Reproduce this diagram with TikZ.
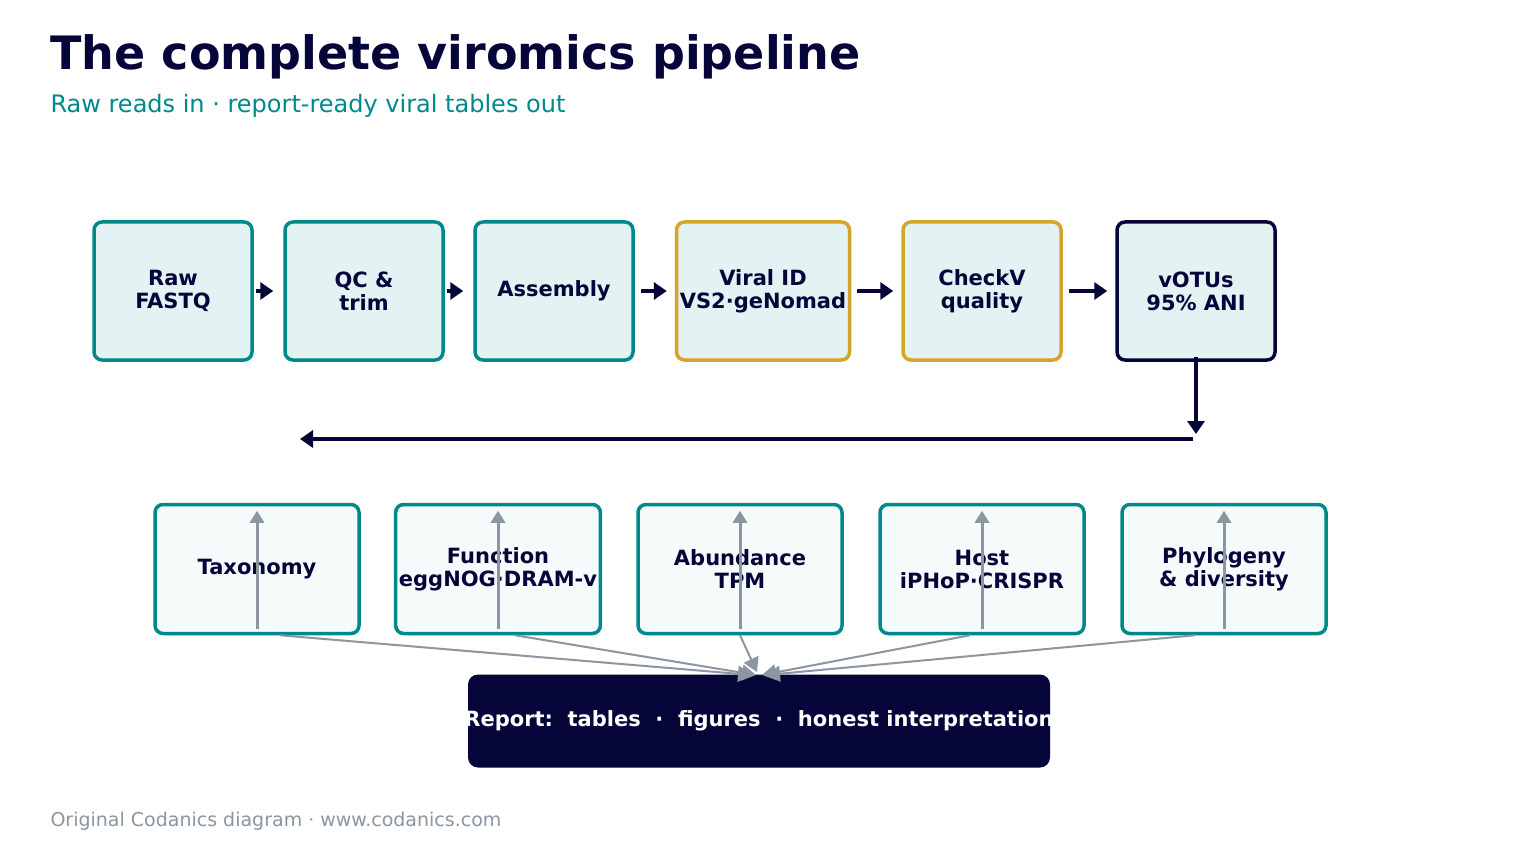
\documentclass[tikz,border=0pt]{standalone}
\usepackage{fontspec}
\setmainfont{DejaVu Sans}
\usetikzlibrary{arrows.meta}
\definecolor{teal}{HTML}{00898A}
\definecolor{tealfill}{HTML}{E3F2F2}
\definecolor{lightfill}{HTML}{F5FAFB}
\definecolor{gold}{HTML}{D4A52A}
\definecolor{navy}{HTML}{05053A}
\definecolor{slate}{HTML}{8C96A0}
\tikzset{
  stage/.style={draw=teal, fill=tealfill, line width=3.5pt, rounded corners=8pt,
    minimum width=158pt, minimum height=138pt, align=center, text=navy,
    font=\fontsize{21}{23}\selectfont\bfseries},
  result/.style={stage, fill=lightfill, minimum width=204pt, minimum height=129pt},
  flow/.style={draw=navy, line width=4.5pt, -{Triangle[length=13pt,width=17pt]}},
  fan/.style={draw=slate, line width=3pt, -{Triangle[length=12pt,width=14pt]}},
  merge/.style={draw=slate, line width=2pt, -{Triangle[length=14pt,width=16pt]}}
}
\begin{document}
\begin{tikzpicture}[x=1pt,y=-1pt]
\useasboundingbox[fill=white] (0,0) rectangle (1518,861);
% title
\node[anchor=base west, text=navy, font=\fontsize{46}{50}\selectfont\bfseries] (title) at (47,70) {The complete viromics pipeline};
\node[anchor=base west, text=teal, font=\fontsize{24}{28}\selectfont] (sub) at (47,113) {Raw reads in · report-ready viral tables out};
% upper row
\node[stage] (raw) at (173,291) {Raw\\FASTQ};
\node[stage] (qc) at (364,291) {QC \&\\trim};
\node[stage] (asm) at (554,291) {Assembly};
\node[stage, draw=gold] (vid) at (763,291) {Viral ID\\VS2·geNomad};
\node[stage, draw=gold] (chk) at (982,291) {CheckV\\quality};
\node[stage, draw=navy] (vot) at (1196,291) {vOTUs\\95\% ANI};
\draw[flow] ([xshift=2pt]raw.east) -- ([xshift=-10pt]qc.west);
\draw[flow] ([xshift=2pt]qc.east) -- ([xshift=-10pt]asm.west);
\draw[flow] ([xshift=6pt]asm.east) -- ([xshift=-8pt]vid.west);
\draw[flow] ([xshift=6pt]vid.east) -- ([xshift=-8pt]chk.west);
\draw[flow] ([xshift=6pt]chk.east) -- ([xshift=-8pt]vot.west);
% branch
\coordinate (turn) at (1193,439);
\coordinate (left) at (300,439);
\draw[flow] ([yshift=5pt]vot.south) -- (1196,434);
\draw[flow] (turn) -- (left);
% lower row
\node[result] (tax) at (257,569) {Taxonomy};
\node[result] (fun) at (498,569) {Function\\eggNOG·DRAM-v};
\node[result] (abu) at (740,569) {Abundance\\TPM};
\node[result] (hst) at (982,569) {Host\\iPHoP·CRISPR};
\node[result] (phy) at (1224,569) {Phylogeny\\\& diversity};
\foreach \n in {tax,fun,abu,hst,phy}
  \draw[fan] ([yshift=-126pt]\n.north) -- ([yshift=-8pt]\n.north);
% report
\node[fill=navy, rounded corners=10pt, minimum width=582pt, minimum height=93pt] (rep) at (759,721) {};
\node[text=white, font=\fontsize{21}{23}\selectfont\bfseries] (reptext) at (759,721) {Report:\ \ tables\ \ ·\ \ figures\ \ ·\ \ honest interpretation};
\draw[merge] ([xshift=23pt]tax.south) -- (752,675);
\draw[merge] ([xshift=17pt]fun.south) -- (756,675);
\draw[merge] (abu.south) -- (757,672);
\draw[merge] ([xshift=-12pt]hst.south) -- (762,675);
\draw[merge] ([xshift=-29pt]phy.south) -- (766,675);
% footer
\node[anchor=base west, text=slate, font=\fontsize{19}{22}\selectfont] (foot) at (47,826) {Original Codanics diagram · www.codanics.com};
\end{tikzpicture}
\end{document}
